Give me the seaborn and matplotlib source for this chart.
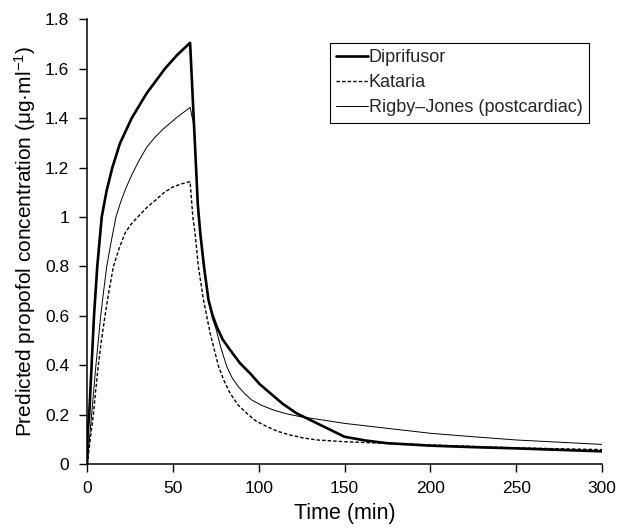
import matplotlib
matplotlib.use("Agg")
import matplotlib.pyplot as plt
import seaborn as sns
import pandas as pd

# ---- data ----
dipri_t = [0, 0.3, 1.2, 2.6, 4, 5.9, 7.2, 8.5, 11.4, 14.7, 19.1, 26, 34.7, 45.4, 52.5, 60,
           64.5, 66, 68.1, 70.7, 73, 75.5, 79, 83.3, 89, 95, 100.5, 106.7, 114, 122,
           135.8, 150, 162, 174.7, 200, 225, 250, 275, 300]
dipri_c = [0, 0.13, 0.2, 0.4, 0.6, 0.8, 0.9, 1.0, 1.108, 1.2, 1.297, 1.4, 1.5, 1.6, 1.655, 1.704,
           1.05, 0.93, 0.80, 0.665, 0.605, 0.557, 0.505, 0.463, 0.41, 0.368, 0.325, 0.288, 0.245, 0.207,
           0.16, 0.112, 0.097, 0.086, 0.076, 0.07, 0.065, 0.059, 0.053]

kat_t = [0, 3.6, 5, 6.5, 8.3, 10.4, 12.7, 15.3, 18.5, 22, 25.5, 29.5, 35, 40.5, 45, 50.2, 55, 60,
         61.6, 62.9, 64.8, 67.8, 71.7, 76.6, 80, 83.3, 88, 93, 98.5, 104.8, 111, 118.3, 126,
         134, 150, 175, 200, 250, 300]
kat_c = [0, 0.2, 0.3, 0.4, 0.5, 0.6, 0.7, 0.8, 0.87, 0.934, 0.97, 1.0, 1.04, 1.072, 1.10, 1.122, 1.134, 1.143,
         1.0, 0.934, 0.80, 0.665, 0.53, 0.395, 0.335, 0.288, 0.24, 0.207, 0.175, 0.153, 0.134, 0.119, 0.107,
         0.099, 0.092, 0.085, 0.079, 0.067, 0.06]

rj_t = [0, 2.6, 5.1, 7.9, 9.6, 11.4, 14, 16.8, 19.5, 22.5, 26, 30, 34.7, 39.5, 44.4, 52.2, 60,
        61.3, 62.3, 64.5, 66, 68.1, 70.7, 73, 75, 78, 81.4, 84.5, 88.2, 92, 96, 102, 108.6,
        116, 124.4, 137, 150, 175, 200, 225, 250, 275, 300]
rj_c = [0, 0.2, 0.4, 0.6, 0.7, 0.8, 0.9, 1.0, 1.06, 1.115, 1.17, 1.225, 1.282, 1.322, 1.356, 1.402, 1.443,
        1.40, 1.37, 1.05, 0.93, 0.80, 0.665, 0.59, 0.55, 0.47, 0.395, 0.35, 0.314, 0.285, 0.26, 0.238, 0.22,
        0.205, 0.193, 0.18, 0.166, 0.146, 0.126, 0.112, 0.099, 0.09, 0.081]

series_names = ["Diprifusor", "Kataria", "Rigby\u2013Jones (postcardiac)"]
x_ticks = [0, 50, 100, 150, 200, 250, 300]
y_ticks = [0, 0.2, 0.4, 0.6, 0.8, 1.0, 1.2, 1.4, 1.6, 1.8]
y_tick_labels = ["0", "0.2", "0.4", "0.6", "0.8", "1", "1.2", "1.4", "1.6", "1.8"]

# ---- style ----
sns.set_style("ticks")
plt.rcParams["font.family"] = ["Liberation Sans", "DejaVu Sans"]
plt.rcParams["mathtext.fontset"] = "custom"
plt.rcParams["mathtext.rm"] = "Liberation Sans"
plt.rcParams["mathtext.it"] = "Liberation Sans:italic"
plt.rcParams["mathtext.default"] = "rm"

fig = plt.figure(figsize=(6.18, 5.29), dpi=100)
ax = fig.add_axes([0.141, 0.122, 0.833, 0.842])

df_d = pd.DataFrame({"t": dipri_t, "c": dipri_c})
df_k = pd.DataFrame({"t": kat_t, "c": kat_c})
df_r = pd.DataFrame({"t": rj_t, "c": rj_c})

sns.lineplot(data=df_d, x="t", y="c", ax=ax, color="black", lw=1.9,
             label=series_names[0], sort=False)
sns.lineplot(data=df_k, x="t", y="c", ax=ax, color="black", lw=1.0,
             label=series_names[1], sort=False)
ax.lines[-1].set_dashes((2.5, 1.5))
sns.lineplot(data=df_r, x="t", y="c", ax=ax, color="black", lw=0.7,
             label=series_names[2], sort=False)

ax.set_xlim(0, 300)
ax.set_ylim(0, 1.8)
ax.set_xticks(x_ticks)
ax.set_yticks(y_ticks)
ax.set_yticklabels(y_tick_labels)
ax.tick_params(axis="both", direction="out", length=6, width=1, labelsize=12.5,
               color="black", labelcolor="black")
ax.tick_params(axis="x", pad=6)
ax.tick_params(axis="y", pad=7)
for s in ["left", "bottom"]:
    ax.spines[s].set_linewidth(1.1)
    ax.spines[s].set_color("black")
sns.despine(ax=ax)

ax.set_xlabel("Time (min)", fontsize=15.5, color="black", labelpad=5)
ax.set_ylabel("Predicted propofol concentration (\u03bcg\u00b7ml$^{\u22121}$)",
              fontsize=15, color="black", labelpad=5)

leg = ax.legend(loc="upper right", bbox_to_anchor=(0.975, 0.947), fontsize=13,
                frameon=True, fancybox=False, edgecolor="black", framealpha=1,
                handlelength=1.75, handletextpad=0.05, borderpad=0.35,
                labelspacing=0.45, borderaxespad=0)
leg.get_frame().set_linewidth(0.8)

fig.savefig("out.png", dpi=100)
